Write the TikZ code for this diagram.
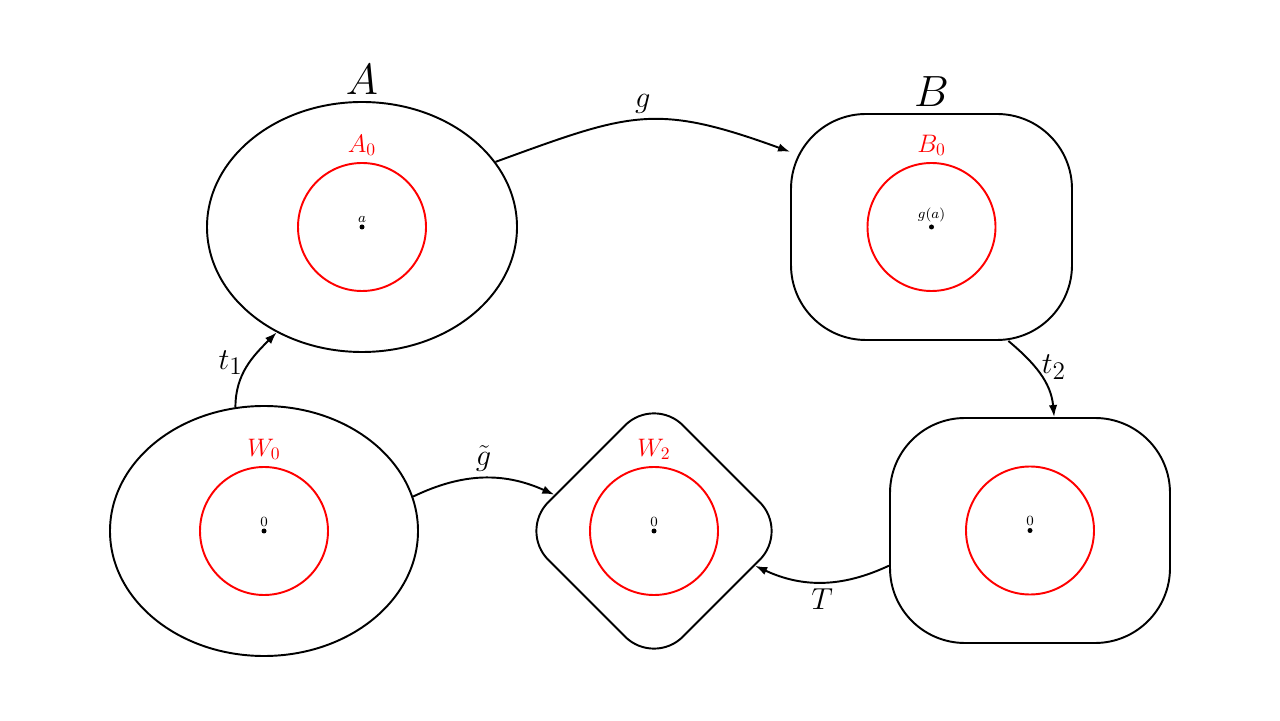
\documentclass[tikz,border=0pt]{standalone}
\usetikzlibrary{shapes.geometric,positioning,arrows.meta}
\tikzset{
  space/.style={draw, line width=1.1pt, inner sep=0pt},
  sub/.style={circle, draw=red, line width=1.1pt, minimum size=2.56cm, inner sep=0pt},
  pt/.style={circle, fill, inner sep=0pt, minimum size=1mm},
  ptlbl/.style={font=\fontsize{8.4}{10}\selectfont, inner sep=1pt},
  sublbl/.style={red, font=\fontsize{14}{16}\selectfont},
  map/.style={-{Latex[length=2.4mm,width=1.7mm]}, line width=1.1pt},
  maplbl/.style={font=\fontsize{19}{22}\selectfont},
  setlbl/.style={font=\fontsize{29}{32}\selectfont},
}
\begin{document}
\begin{tikzpicture}
  \useasboundingbox (0,0) rectangle (25.6,14.4);
  % the spaces
  \node[space, ellipse, minimum width=6.2cm, minimum height=5cm] (A) at (7.24,9.86) {};
  \node[space, rounded corners=1.5cm, minimum width=5.62cm, minimum height=4.52cm] (B) at (18.63,9.86) {};
  \node[space, ellipse, minimum width=6.16cm, minimum height=5cm] (W0) at (5.28,3.78) {};
  \node[space, diamond, rounded corners=0.82cm, minimum width=5.4cm, minimum height=5.4cm] (W2) at (13.08,3.78) {};
  \node[space, rounded corners=1.5cm, minimum width=5.6cm, minimum height=4.5cm] (C) at (20.6,3.79) {};
  \node[above=0pt of A, setlbl] (labA) {$A$};
  \node[above=0pt of B, setlbl] (labB) {$B$};
  % subsets and points
  \node[sub, label={[sublbl]above:$A_0$}] (subA) at (A) {};
  \node[sub, label={[sublbl]above:$B_0$}] (subB) at (B) {};
  \node[sub, label={[sublbl]above:$W_0$}] (subW0) at (W0) {};
  \node[sub, label={[sublbl]above:$W_2$}] (subW2) at (W2) {};
  \node[sub] (subC) at (C) {};
  \node[pt, label={[ptlbl]above:$a$}] (ptA) at (A) {};
  \node[pt, label={[ptlbl]above:$g(a)$}] (ptB) at (B) {};
  \node[pt, label={[ptlbl]above:$0$}] (ptW0) at (W0) {};
  \node[pt, label={[ptlbl]above:$0$}] (ptW2) at (W2) {};
  \node[pt, label={[ptlbl]above:$0$}] (ptC) at (C) {};
  % maps
  \draw[map] (A.26) to[out=20,in=160,looseness=1.25] node[above, maplbl] {$g$} (B.152);
  \draw[map] (W0.103) to[out=90,in=225] node[left, pos=0.55, maplbl] {$t_1$} (A.231);
  \draw[map] (B.-56) to[out=-40,in=95] node[right, pos=0.4, maplbl] {$t_2$} (C.78);
  \draw[map] (W0.13) to[bend left=25] node[above, maplbl] {$\tilde g$} (W2.160);
  \draw[map] (C.194) to[bend left=25] node[below, maplbl] {$T$} (W2.-19);
\end{tikzpicture}
\end{document}
